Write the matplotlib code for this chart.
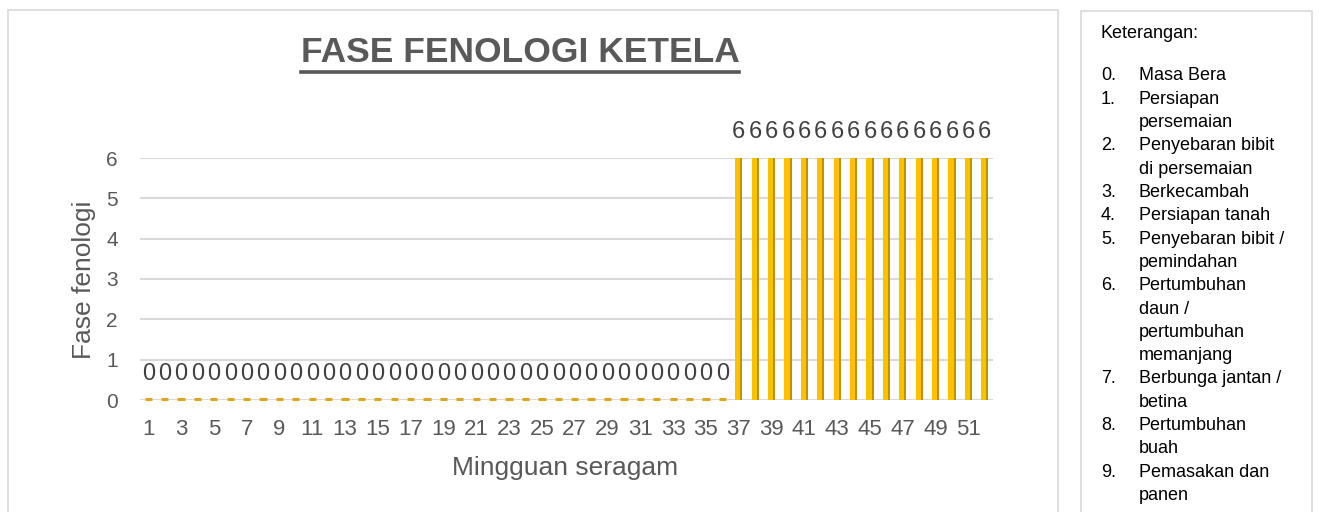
import matplotlib
matplotlib.use('Agg')
import numpy as np
import matplotlib.pyplot as plt
from matplotlib.patches import Rectangle
from matplotlib.lines import Line2D

plt.rcParams['font.family'] = ['Liberation Sans', 'DejaVu Sans']

# data
weeks = list(range(1, 53))
phase = [0] * 36 + [6] * 16
xtick_labels = [str(w) for w in weeks[::2]]
legend_items = [
    ('0.', ['Masa Bera']),
    ('1.', ['Persiapan', 'persemaian']),
    ('2.', ['Penyebaran bibit', 'di persemaian']),
    ('3.', ['Berkecambah']),
    ('4.', ['Persiapan tanah']),
    ('5.', ['Penyebaran bibit /', 'pemindahan']),
    ('6.', ['Pertumbuhan', 'daun /', 'pertumbuhan', 'memanjang']),
    ('7.', ['Berbunga jantan /', 'betina']),
    ('8.', ['Pertumbuhan', 'buah']),
    ('9.', ['Pemasakan dan', 'panen']),
]

W, H = 1319, 512
fig = plt.figure(figsize=(W / 100, H / 100), dpi=100)

def fx(px):
    return px / W

def fy(py):
    return 1 - py / H

# outer frames (chart area + note box)
fig.patches.append(Rectangle((fx(8), fy(530)), fx(1050), (530 - 10) / H,
                             transform=fig.transFigure, fill=False,
                             edgecolor='#D9D9D9', lw=1.2))
fig.patches.append(Rectangle((fx(1081), fy(530)), fx(231), (530 - 11) / H,
                             transform=fig.transFigure, fill=False,
                             edgecolor='#D9D9D9', lw=1.2))

ax = fig.add_axes([fx(140), fy(400), fx(993 - 140), (400 - 158) / H])

x = np.array(weeks)
v = np.array(phase)
gold = '#FFC000'
side = '#BF9000'

ax.bar(x - 0.06, v, width=0.32, color=gold, linewidth=0, zorder=3)
ax.bar(x + 0.16, v, width=0.12, color=side, linewidth=0, zorder=3)
zero = v == 0
ax.hlines(np.zeros(zero.sum()) + 0.02, x[zero] - 0.22, x[zero] + 0.22,
          color='#DDA520', lw=2.2, zorder=4, clip_on=False)

for xi, vi in zip(x, v):
    ax.annotate(str(vi), (xi, vi), xytext=(0, 11), textcoords='offset points',
                ha='center', va='bottom', fontsize=17, color='#404040')

ax.set_xlim(0.5, 52.5)
ax.set_ylim(0, 6)
ax.set_yticks(range(0, 7))
ax.set_xticks(weeks[::2])
ax.set_xticklabels(xtick_labels)
ax.grid(axis='y', color='#D9D9D9', lw=1.5, zorder=0)
ax.set_axisbelow(True)
for s in ax.spines.values():
    s.set_visible(False)
ax.tick_params(axis='y', length=0, pad=16, labelsize=15, labelcolor='#595959')
ax.tick_params(axis='x', length=0, pad=14, labelsize=16, labelcolor='#595959')

fig.text(fx(84), fy(280), 'Fase fenologi', rotation=90, ha='center', va='center',
         fontsize=19, color='#595959')
fig.text(fx(565), fy(468), 'Mingguan seragam', ha='center', va='center',
         fontsize=19, color='#595959')

title = fig.text(fx(520), fy(52), 'FASE FENOLOGI KETELA', ha='center', va='center',
                 fontsize=25.5, fontweight='bold', color='#595959')
fig.canvas.draw()
bb = title.get_window_extent()
fig.lines.append(Line2D([bb.x0 / W, bb.x1 / W], [fy(72), fy(72)],
                        transform=fig.transFigure, color='#595959', lw=2.6))

# note box
fig.text(fx(1101), fy(33), 'Keterangan:', ha='left', va='center', fontsize=13, color='#000000')
line_y = 76
step = 23.3
for num, lines in legend_items:
    fig.text(fx(1101), fy(line_y), num, ha='left', va='center', fontsize=13, color='#000000')
    for ln in lines:
        fig.text(fx(1139), fy(line_y), ln, ha='left', va='center', fontsize=13, color='#000000')
        line_y += step

fig.savefig('out.png', dpi=100)
